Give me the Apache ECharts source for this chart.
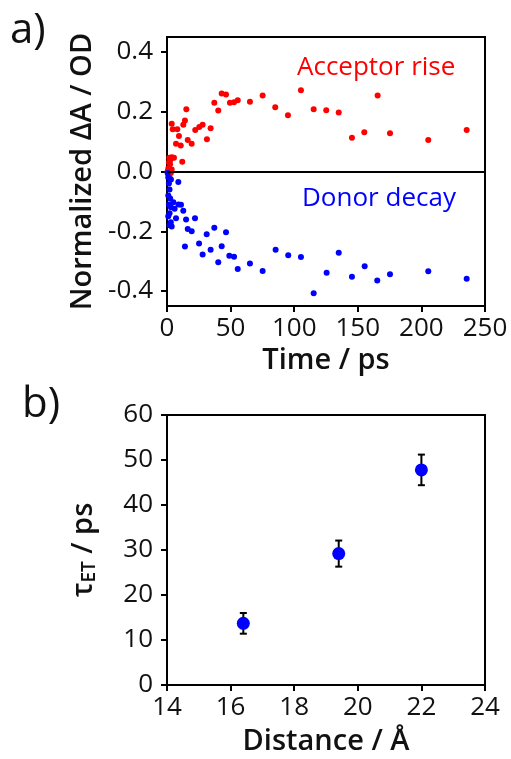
<!DOCTYPE html>
<html>
<head>
<meta charset="utf-8">
<script src="https://cdn.jsdelivr.net/npm/echarts@6/dist/echarts.min.js"></script>
<style>
  html, body { margin: 0; padding: 0; background: #fff; }
  #chart { width: 511px; height: 759px; }
</style>
</head>
<body>
<div id="chart"></div>
<script>
// a) transient absorption kinetics (time in ps, normalized dA)
var acceptorTime = [0.5, 1, 1.5, 1.8, 2.4, 2.4, 3.7, 3.7, 4.2, 5.5, 12.0, 1, 2, 3,
    3.7, 4.5, 8.1, 9.4, 7.1, 10.8, 12.8, 14.1, 15.2, 16.3, 19.4, 22.2, 25.4, 28.0, 31.4, 34.3,
    37.2, 40.3, 43, 46.4, 49.5, 52.7, 55.6, 65.2, 75.2, 85.1, 95.1, 105.3, 115.3, 125.2, 135,
    145.4, 155.1, 165.6, 175.3, 205.4, 235.6];
var acceptorValue = [0.0, 0.01, 0.03, 0.046, 0.024, 0.037, 0.007, 0.048, 0.046, 0.046, 0.033, -0.01, -0.02, -0.005,
    0.16, 0.141, 0.141, 0.119, 0.093, 0.087, 0.156, 0.171, 0.208, 0.105, 0.093, 0.139, 0.149, 0.156, 0.108, 0.145,
    0.23, 0.204, 0.261, 0.258, 0.23, 0.232, 0.238, 0.233, 0.254, 0.215, 0.188, 0.272, 0.208, 0.205, 0.197,
    0.113, 0.131, 0.254, 0.128, 0.105, 0.139];

var donorTime = [0.5, 1, 1.5, 2, 1, 2.5, 1.5, 3, 2, 1, 3, 2, 3.1, 8.9, 5, 11, 12.8, 7.1, 3.7, 6, 9,
    15, 22, 16.3, 19.4, 37.2, 31.2, 46.4, 14.1, 25.2, 34.3, 43, 28, 49, 52.7, 40.3, 55.6, 65.2,
    75.2, 85.4, 95.3, 105.3, 115.3, 125.5, 135, 145.4, 155.4, 165.3, 175.3, 205.4, 235.6];
var donorValue = [-0.005, -0.02, -0.04, -0.06, -0.08, -0.09, -0.11, -0.12, -0.14, -0.15, -0.17, -0.18, -0.027, -0.035, -0.103, -0.111, -0.131, -0.156, -0.184, -0.125, -0.11,
    -0.161, -0.156, -0.192, -0.2, -0.188, -0.21, -0.203, -0.251, -0.241, -0.262, -0.25, -0.278, -0.282, -0.285, -0.304, -0.326, -0.308,
    -0.333, -0.262, -0.28, -0.286, -0.407, -0.339, -0.272, -0.352, -0.317, -0.365, -0.344, -0.334, -0.359];

var timeTicks = [0, 50, 100, 150, 200, 250];
var dATicks = [-0.4, -0.2, 0.0, 0.2, 0.4];

// b) electron transfer time vs distance
var distance = [16.4, 19.4, 22.0];
var tauET = [13.7, 29.2, 47.8];
var tauErr = [2.3, 2.9, 3.4];

function pairs(xs, ys) {
    return xs.map(function (x, i) { return [x, ys[i]]; });
}

var FONT = 'Open Sans';
var axisLine = { show: true, onZero: false, lineStyle: { color: '#000', width: 2 } };
var axisTick = { show: true, inside: false, length: 6, lineStyle: { color: '#000', width: 2 } };
var labelStyle = { color: '#111', fontSize: 26, fontFamily: FONT };
var nameStyle = { color: '#111', fontSize: 29, fontFamily: FONT, fontWeight: 600 };

var myChart = echarts.init(document.getElementById('chart'), null, { renderer: 'canvas' });

var option = {
    animation: false,
    backgroundColor: '#fff',
    grid: [
        { left: 167, top: 37, width: 318, height: 269, show: true, borderColor: '#000', borderWidth: 2, backgroundColor: 'transparent' },
        { left: 167, top: 415, width: 318, height: 270, show: true, borderColor: '#000', borderWidth: 2, backgroundColor: 'transparent' }
    ],
    xAxis: [
        {
            gridIndex: 0, type: 'value', min: 0, max: 250, interval: 50,
            axisLine: axisLine, axisTick: axisTick, splitLine: { show: false },
            axisLabel: Object.assign({ margin: 10, customValues: timeTicks }, labelStyle),
            name: 'Time / ps', nameLocation: 'middle', nameGap: 40, nameTextStyle: nameStyle
        },
        {
            gridIndex: 1, type: 'value', min: 14, max: 24, interval: 2,
            axisLine: axisLine, axisTick: axisTick, splitLine: { show: false },
            axisLabel: Object.assign({ margin: 10 }, labelStyle),
            name: 'Distance / \u00c5', nameLocation: 'middle', nameGap: 42, nameTextStyle: nameStyle
        }
    ],
    yAxis: [
        {
            gridIndex: 0, type: 'value', min: -0.45, max: 0.45,
            axisLine: axisLine,
            axisTick: Object.assign({ customValues: dATicks }, axisTick),
            splitLine: { show: false },
            axisLabel: Object.assign({
                margin: 14, customValues: dATicks,
                formatter: function (v) { return v.toFixed(1); }
            }, labelStyle),
            name: 'Normalized \u0394A / OD', nameLocation: 'middle', nameGap: 70, nameTextStyle: nameStyle
        },
        {
            gridIndex: 1, type: 'value', min: 0, max: 60, interval: 10,
            axisLine: axisLine, axisTick: axisTick, splitLine: { show: false },
            axisLabel: Object.assign({ margin: 14 }, labelStyle),
            name: '{a|\u03c4}{s|ET}{a| / ps}', nameLocation: 'middle', nameGap: 68,
            nameTextStyle: {
                color: '#111', fontFamily: FONT, fontWeight: 600,
                rich: {
                    a: { fontSize: 29, fontFamily: FONT, fontWeight: 600, color: '#111' },
                    s: { fontSize: 19, fontFamily: FONT, fontWeight: 600, color: '#111', verticalAlign: 'bottom', padding: [12, 0, 0, 0] }
                }
            }
        }
    ],
    series: [
        {
            type: 'scatter', xAxisIndex: 0, yAxisIndex: 0,
            data: pairs(acceptorTime, acceptorValue),
            symbolSize: 6, itemStyle: { color: '#ff0000', opacity: 1 },
            markLine: {
                silent: true, symbol: 'none', label: { show: false },
                lineStyle: { color: '#000', width: 2, type: 'solid' },
                data: [{ yAxis: 0 }]
            }
        },
        {
            type: 'scatter', xAxisIndex: 0, yAxisIndex: 0,
            data: pairs(donorTime, donorValue),
            symbolSize: 6, itemStyle: { color: '#0000ff', opacity: 1 }
        },
        {
            type: 'custom', xAxisIndex: 1, yAxisIndex: 1,
            data: distance.map(function (d, i) { return [d, tauET[i] - tauErr[i], tauET[i] + tauErr[i]]; }),
            renderItem: function (params, api) {
                var lo = api.coord([api.value(0), api.value(1)]);
                var hi = api.coord([api.value(0), api.value(2)]);
                var w = 3.5;
                var st = { stroke: '#000', lineWidth: 2 };
                return {
                    type: 'group',
                    children: [
                        { type: 'line', shape: { x1: lo[0], y1: lo[1], x2: hi[0], y2: hi[1] }, style: st },
                        { type: 'line', shape: { x1: lo[0] - w, y1: lo[1], x2: lo[0] + w, y2: lo[1] }, style: st },
                        { type: 'line', shape: { x1: hi[0] - w, y1: hi[1], x2: hi[0] + w, y2: hi[1] }, style: st }
                    ]
                };
            },
            z: 1
        },
        {
            type: 'scatter', xAxisIndex: 1, yAxisIndex: 1,
            data: pairs(distance, tauET),
            symbolSize: 13, itemStyle: { color: '#0000ff', opacity: 1 }, z: 3
        }
    ],
    graphic: [
        { type: 'text', left: 10, top: 10, style: { text: 'a)', fontSize: 42, fontFamily: FONT, fill: '#111' } },
        { type: 'text', left: 22, top: 384, style: { text: 'b)', fontSize: 42, fontFamily: FONT, fill: '#111' } },
        { type: 'text', x: 297, y: 68, style: { text: 'Acceptor rise', fontSize: 26, fontFamily: FONT, fill: '#ff0000', align: 'left', verticalAlign: 'middle' } },
        { type: 'text', x: 302, y: 199, style: { text: 'Donor decay', fontSize: 26, fontFamily: FONT, fill: '#0000ff', align: 'left', verticalAlign: 'middle' } }
    ]
};

myChart.setOption(option);
</script>
</body>
</html>
